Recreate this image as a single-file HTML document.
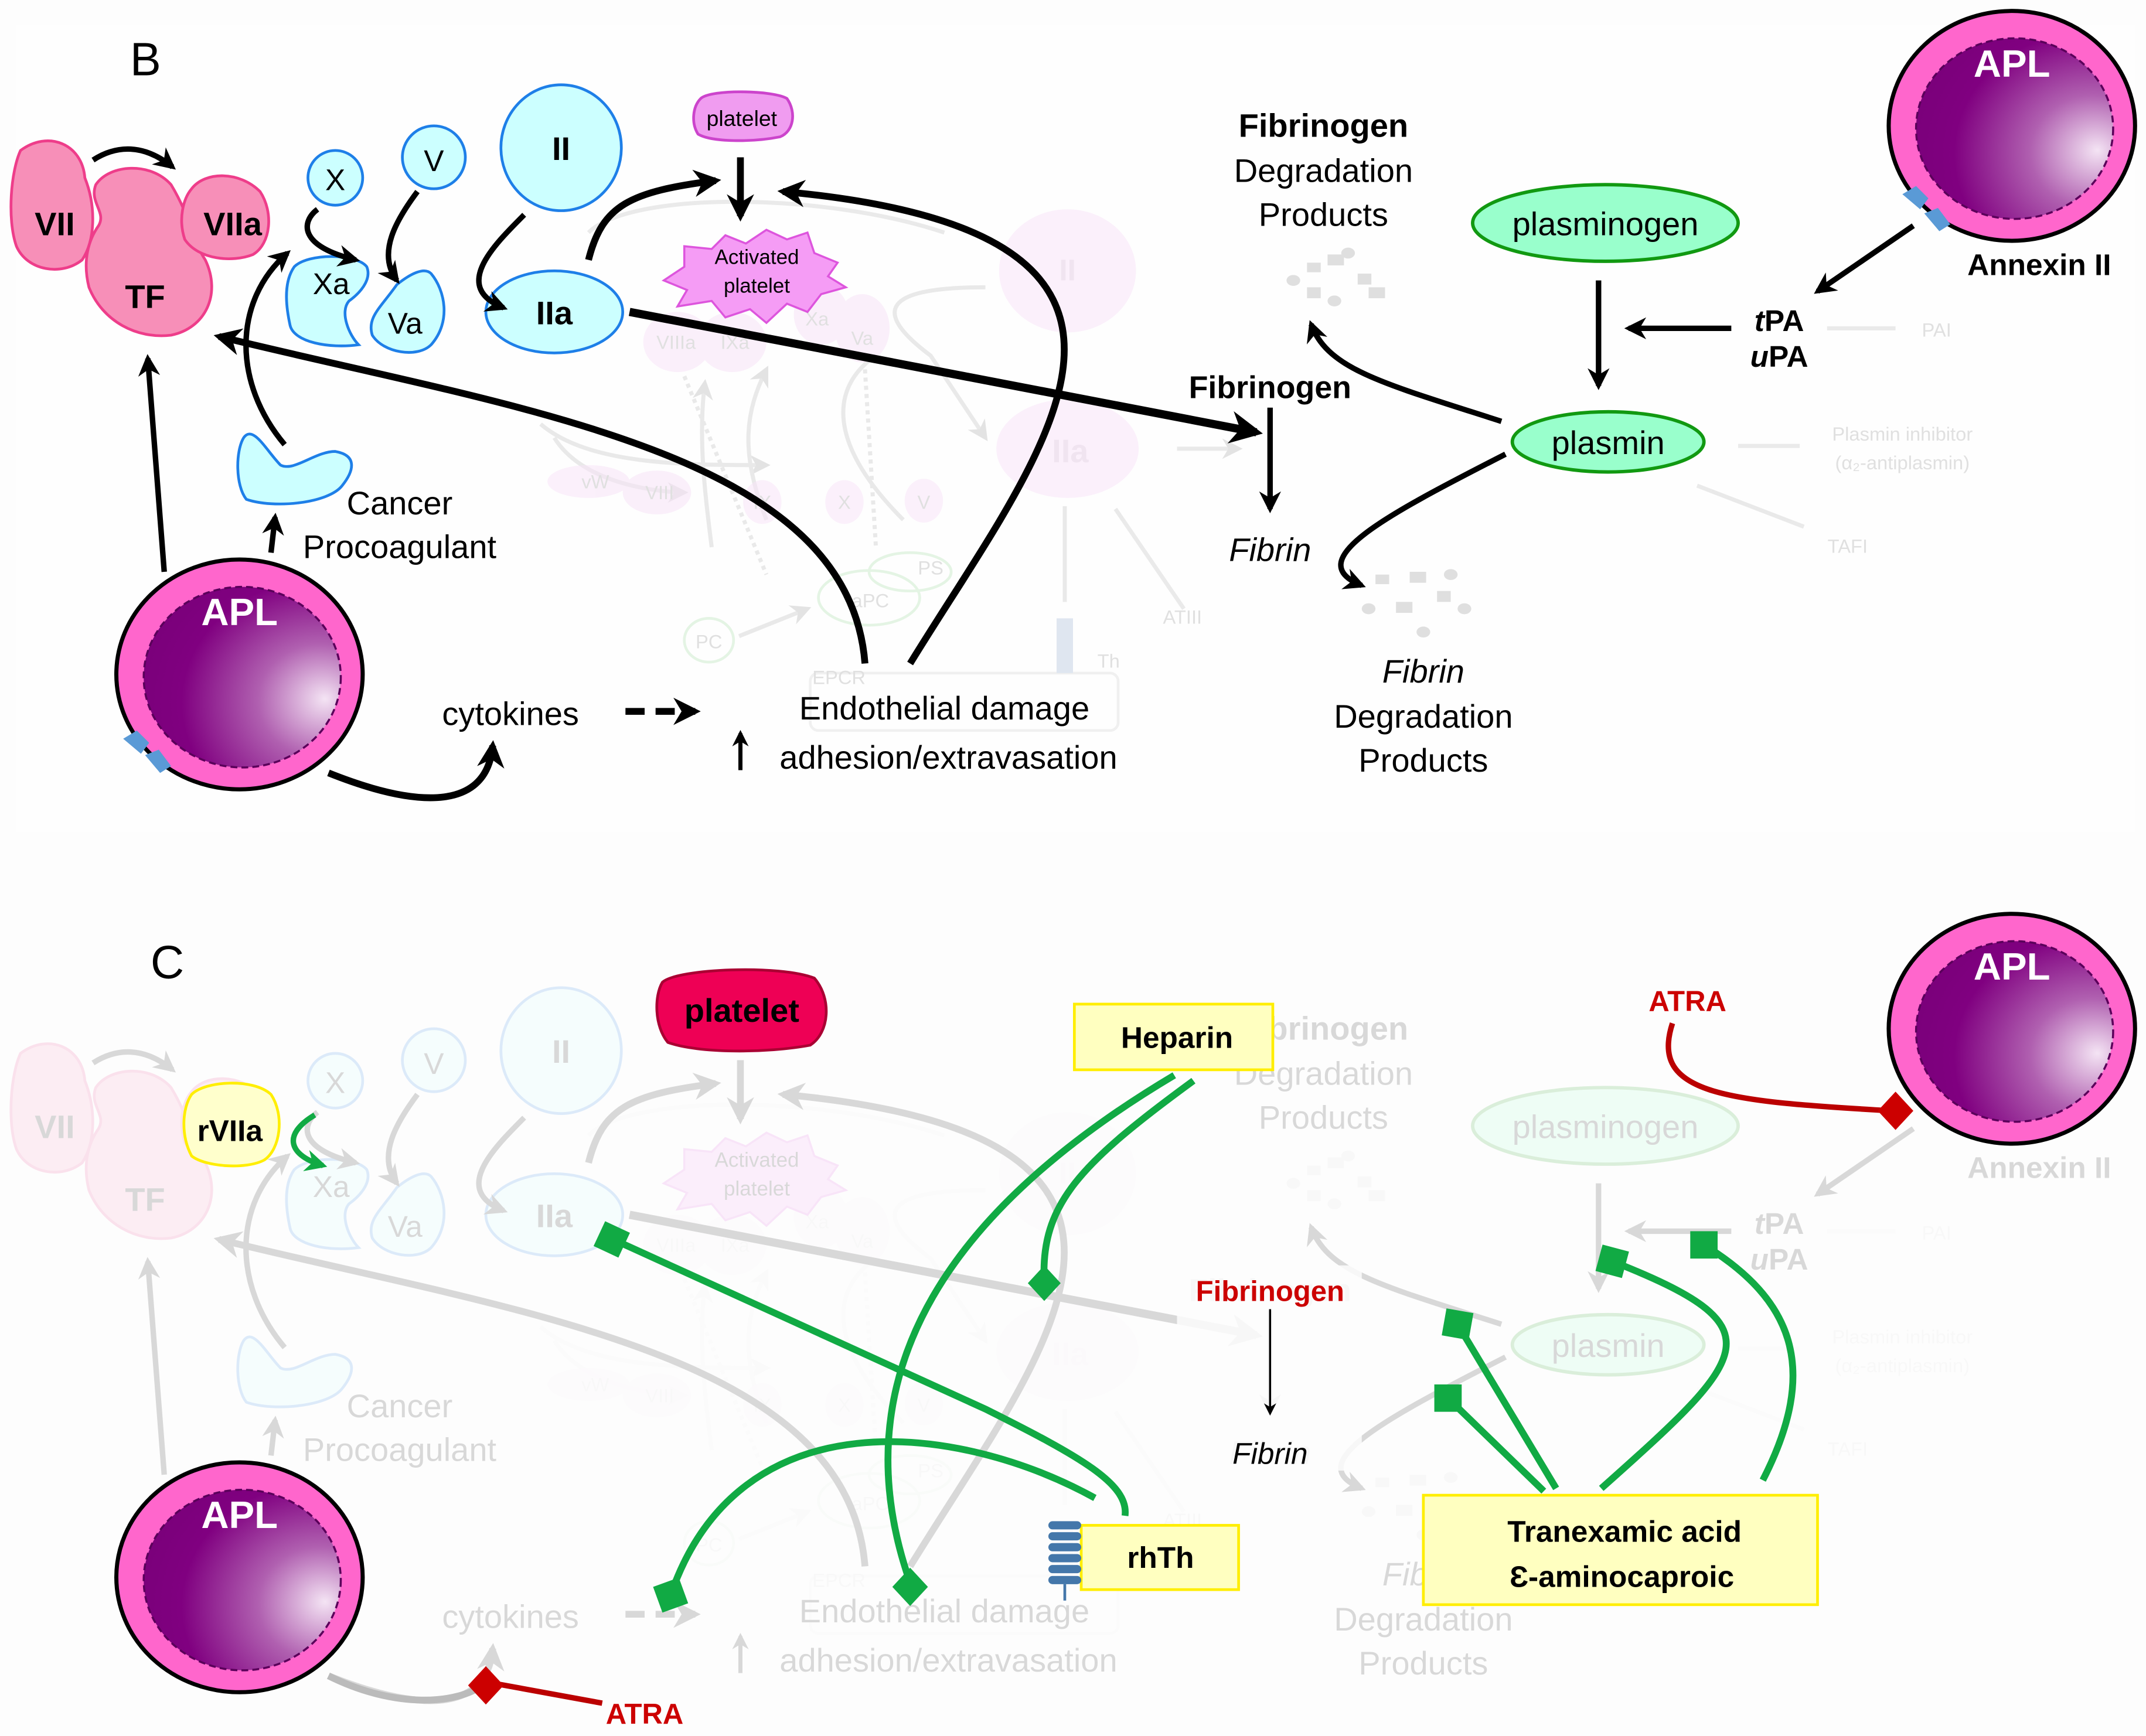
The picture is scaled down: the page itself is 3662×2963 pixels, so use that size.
<!DOCTYPE html>
<html><head><meta charset="utf-8"><style>
html,body{margin:0;padding:0;background:#fff}
svg{display:block}
text{font-family:"Liberation Sans",sans-serif}
</style></head><body>
<svg width="3662" height="2963" viewBox="0 0 1568 1269" preserveAspectRatio="none" xmlns="http://www.w3.org/2000/svg">
<defs>
<radialGradient id="cell" cx="0.85" cy="0.65" r="0.9" fx="0.92" fy="0.62">
<stop offset="0" stop-color="#f4e4f4"/><stop offset="0.35" stop-color="#b060b0"/><stop offset="0.75" stop-color="#800080"/><stop offset="1" stop-color="#7a007a"/>
</radialGradient>
<marker id="ah" viewBox="0 0 10 10" refX="8" refY="5" markerWidth="4" markerHeight="4" orient="auto"><path d="M0,0 L10,5 L0,10 L3,5z" fill="#000"/></marker>
<marker id="ahg" viewBox="0 0 10 10" refX="8" refY="5" markerWidth="5" markerHeight="5" orient="auto"><path d="M0,0 L10,5 L0,10 L3,5z" fill="#bbb"/></marker>
<marker id="ahgr" viewBox="0 0 10 10" refX="8" refY="5" markerWidth="4" markerHeight="4" orient="auto"><path d="M0,0 L10,5 L0,10 L3,5z" fill="#11aa44"/></marker>
<marker id="ahs" viewBox="0 0 10 10" refX="8" refY="5" markerWidth="6" markerHeight="6" orient="auto"><path d="M0,0 L10,5 L0,10 L3,5z" fill="#000"/></marker>
<g id="apl">
<ellipse cx="0" cy="0" rx="90" ry="84" fill="#ff66cc" stroke="#000" stroke-width="3"/>
<ellipse cx="2" cy="2" rx="72" ry="66" fill="url(#cell)" stroke="#5a005a" stroke-width="1.5" stroke-dasharray="5,3"/>
<text x="0" y="-36" font-size="28" font-weight="bold" fill="#fff" text-anchor="middle">APL</text>
</g>
<g id="panelB">
<g opacity="0.4" fill="none" stroke="#ccc" stroke-width="3">
<path d="M430,170 C460,140 600,140 690,170"/>
<path d="M720,210 C640,210 640,230 680,260 L720,320" marker-end="url(#ahg)"/>
<path d="M395,310 C430,340 500,340 560,340" marker-end="url(#ahg)"/>
<path d="M405,320 C430,360 500,360 500,360" marker-end="url(#ahg)"/>
<path d="M520,400 C515,360 510,320 515,280" marker-end="url(#ahg)"/>
<path d="M560,380 C540,330 545,300 560,270" marker-end="url(#ahg)"/>
<path d="M660,380 C600,320 610,280 640,260"/>
<path d="M860,328 L905,328" marker-end="url(#ahg)"/>
<path d="M778,440 L778,370"/>
<path d="M865,445 L815,372"/>
<path d="M540,465 L590,445" marker-end="url(#ahg)"/>
<path d="M1385,240 L1335,240"/><path d="M1315,326 L1270,326"/><path d="M1318,385 L1240,355"/>
<path d="M500,275 L560,420" stroke-dasharray="3,3"/><path d="M632,270 L640,400" stroke-dasharray="3,3"/>
</g>
<g fill="#f7e4f7" opacity="0.55">
<ellipse cx="780" cy="198" rx="50" ry="45"/><ellipse cx="780" cy="328" rx="52" ry="36"/>
<ellipse cx="495" cy="250" rx="25" ry="22"/><ellipse cx="535" cy="250" rx="25" ry="22"/><ellipse cx="600" cy="230" rx="20" ry="22"/><ellipse cx="630" cy="240" rx="20" ry="25"/>
<ellipse cx="430" cy="352" rx="30" ry="12"/><ellipse cx="480" cy="360" rx="25" ry="16"/><ellipse cx="557" cy="367" rx="14" ry="16"/><ellipse cx="617" cy="367" rx="14" ry="16"/><ellipse cx="675" cy="366" rx="14" ry="16"/>
</g>
<g fill="none" stroke="#e4f4e4" stroke-width="2"><ellipse cx="518" cy="468" rx="18" ry="16"/><ellipse cx="635" cy="437" rx="37" ry="20"/><ellipse cx="665" cy="418" rx="30" ry="14"/></g>
<rect x="592" y="492" width="225" height="42" rx="6" fill="none" stroke="#f0f0f0" stroke-width="2"/>
<g font-size="14" fill="#e0e0e0" text-anchor="middle">
<text x="780" y="205" font-size="22" font-weight="bold" fill="#f0e4f0">II</text><text x="782" y="338" font-size="24" font-weight="bold" fill="#f0e4f0">IIa</text>
<text x="494" y="255">VIIIa</text><text x="537" y="255">IXa</text><text x="597" y="238">Xa</text><text x="630" y="252">Va</text>
<text x="435" y="357">vW</text><text x="482" y="365">VIII</text><text x="557" y="372">IX</text><text x="617" y="372">X</text><text x="675" y="372">V</text>
<text x="518" y="474">PC</text><text x="636" y="444">aPC</text><text x="680" y="420">PS</text><text x="613" y="500">EPCR</text>
<text x="864" y="456">ATIII</text><text x="810" y="488">Th</text>
<text x="1415" y="246">PAI</text><text x="1390" y="322">Plasmin inhibitor</text><text x="1390" y="343">(α₂-antiplasmin)</text><text x="1350" y="404">TAFI</text>
</g>
<rect x="772" y="452" width="12" height="40" fill="#dfe6f0"/>
<g fill="#ccc" opacity="0.6">
<rect x="955" y="192" width="10" height="7"/><rect x="970" y="186" width="12" height="8"/><rect x="992" y="200" width="10" height="8"/><rect x="1000" y="210" width="12" height="8"/><rect x="955" y="210" width="10" height="8"/><ellipse cx="985" cy="185" rx="5" ry="4"/><ellipse cx="945" cy="205" rx="5" ry="4"/><ellipse cx="975" cy="220" rx="5" ry="4"/>
<rect x="1005" y="420" width="10" height="7"/><rect x="1030" y="418" width="12" height="8"/><rect x="1050" y="432" width="10" height="8"/><rect x="1020" y="440" width="12" height="8"/><ellipse cx="1060" cy="420" rx="5" ry="4"/><ellipse cx="1000" cy="445" rx="5" ry="4"/><ellipse cx="1040" cy="462" rx="5" ry="4"/><ellipse cx="1070" cy="445" rx="5" ry="4"/>
</g>
<path d="M15,110 C35,95 60,105 62,130 C70,150 70,175 60,190 C45,202 20,198 12,180 C5,160 8,125 15,110z" fill="#f78fb8" stroke="#ee3d8a" stroke-width="2"/>
<path d="M70,135 C80,120 110,118 125,135 C140,160 140,175 150,190 C162,215 150,240 125,245 C100,248 75,235 65,210 C60,190 65,175 72,165 C78,155 65,148 70,135z" fill="#f78fb8" stroke="#ee3d8a" stroke-width="2"/>
<path d="M140,138 C150,125 175,125 190,140 C200,155 198,178 185,186 C170,192 145,190 135,175 C130,160 134,145 140,138z" fill="#f78fb8" stroke="#ee3d8a" stroke-width="2"/>
<text x="40" y="172" font-size="24" font-weight="bold" text-anchor="middle">VII</text>
<text x="170" y="172" font-size="24" font-weight="bold" text-anchor="middle">VIIa</text>
<text x="106" y="225" font-size="24" font-weight="bold" text-anchor="middle">TF</text>
<path d="M68,117 C85,106 105,105 126,122" fill="none" stroke="#000" stroke-width="4" marker-end="url(#ah)"/>
<g fill="#ccffff" stroke="#1e7fe8" stroke-width="2">
<circle cx="245" cy="130" r="20"/><circle cx="317" cy="115" r="23"/><ellipse cx="410" cy="108" rx="44" ry="46"/>
<path d="M215,195 C225,185 260,185 268,195 C272,205 262,215 255,220 C248,228 255,245 262,252 C240,255 215,250 212,238 C208,220 208,205 215,195z"/>
<path d="M290,208 C300,200 310,195 315,200 C325,212 330,235 315,252 C305,262 280,258 272,245 C268,232 278,225 290,208z"/>
<ellipse cx="405" cy="228" rx="50" ry="30"/>
<path d="M178,320 C185,310 195,330 205,340 C215,345 230,330 245,330 C262,333 258,345 250,355 C240,368 200,372 180,365 C172,355 172,330 178,320z"/>
</g>
<text x="245" y="139" font-size="22" text-anchor="middle">X</text>
<text x="317" y="125" font-size="22" text-anchor="middle">V</text>
<text x="410" y="117" font-size="24" font-weight="bold" text-anchor="middle">II</text>
<text x="242" y="215" font-size="22" text-anchor="middle">Xa</text>
<text x="296" y="244" font-size="22" text-anchor="middle">Va</text>
<text x="405" y="237" font-size="24" font-weight="bold" text-anchor="middle">IIa</text>
<path d="M512,72 C520,65 565,66 575,72 C582,82 580,96 570,100 C550,104 520,104 510,98 C505,90 506,78 512,72z" fill="#f09cf0" stroke="#cc44cc" stroke-width="2"/>
<text x="542" y="92" font-size="16" text-anchor="middle">platelet</text>
<path d="M500,180 L520,182 L530,172 L545,178 L560,168 L575,175 L590,170 L595,185 L612,192 L605,202 L618,210 L600,215 L590,228 L575,222 L560,236 L548,226 L530,232 L520,220 L495,224 L502,212 L485,205 L500,195 z" fill="#f59cf5" stroke="#dd55dd" stroke-width="1.5"/>
<text x="553" y="193" font-size="15" text-anchor="middle">Activated</text>
<text x="553" y="214" font-size="15" text-anchor="middle">platelet</text>
<g fill="none" stroke="#000" stroke-width="4">
<path d="M232,153 C220,162 218,180 260,190" marker-end="url(#ah)"/>
<path d="M305,140 C290,160 275,185 290,205" marker-end="url(#ah)"/>
<path d="M383,157 C360,180 330,210 368,225" marker-end="url(#ah)"/>
<path d="M430,190 C440,150 460,140 523,132" stroke-width="5" marker-end="url(#ah)"/>
<path d="M541,115 L541,158" stroke-width="5" marker-end="url(#ah)"/>
<path d="M665,485 C760,330 900,170 572,140" stroke-width="5" marker-end="url(#ah)"/>
<path d="M632,485 C620,330 380,300 160,246" stroke-width="5" marker-end="url(#ah)"/>
<path d="M460,228 L918,316" stroke-width="6" marker-end="url(#ah)"/>
<path d="M208,325 C170,280 170,220 210,185" marker-end="url(#ah)"/>
<path d="M120,418 L108,262" marker-end="url(#ah)"/>
<path d="M198,404 L201,378" marker-end="url(#ah)"/>
<path d="M240,565 C290,585 355,600 360,545" stroke-width="5" marker-end="url(#ah)"/>
<path d="M457,520 L508,520" stroke-width="5" stroke-dasharray="14,8" marker-end="url(#ah)"/>
<path d="M541,563 L541,536" stroke-width="3" marker-end="url(#ah)"/>
<path d="M1168,205 L1168,282" marker-end="url(#ah)"/>
<path d="M1265,240 L1190,240" marker-end="url(#ah)"/>
<path d="M1398,165 L1328,213" marker-end="url(#ah)"/>
<path d="M928,298 L928,372" marker-end="url(#ah)"/>
<path d="M1097,308 C1010,280 970,270 958,237" marker-end="url(#ah)"/>
<path d="M1100,332 C1010,378 950,410 995,428" marker-end="url(#ah)"/>
</g>
<g font-size="24" text-anchor="middle">
<text x="292" y="376">Cancer</text><text x="292" y="408">Procoagulant</text>
<text x="373" y="530">cytokines</text>
<text x="690" y="526">Endothelial damage</text>
<text x="693" y="562">adhesion/extravasation</text>
<text x="967" y="100" font-weight="bold">Fibrinogen</text><text x="967" y="133">Degradation</text><text x="967" y="165">Products</text>
<text x="1040" y="499" font-style="italic">Fibrin</text><text x="1040" y="532">Degradation</text><text x="1040" y="564">Products</text>
<text x="928" y="410" font-style="italic">Fibrin</text>
</g>
<ellipse cx="1173" cy="163" rx="97" ry="28" fill="#99ffcc" stroke="#119911" stroke-width="2.5"/>
<text x="1173" y="172" font-size="24" text-anchor="middle">plasminogen</text>
<ellipse cx="1175" cy="323" rx="70" ry="22" fill="#99ffcc" stroke="#119911" stroke-width="2.5"/>
<text x="1175" y="332" font-size="24" text-anchor="middle">plasmin</text>
<g font-size="22" font-weight="bold" text-anchor="middle">
<text x="1300" y="242"><tspan font-style="italic">t</tspan>PA</text>
<text x="1300" y="268"><tspan font-style="italic">u</tspan>PA</text>
<text x="1490" y="201">Annexin II</text>
</g>
<text x="928" y="291" font-size="23" font-weight="bold" text-anchor="middle">Fibrinogen</text>
</g>
</defs>

<rect width="1568" height="1269" fill="#fdfdfd"/>
<rect x="12" y="18" width="1548" height="590" fill="#fefefe"/>
<text x="95" y="55" font-size="34">B</text>
<use href="#panelB"/>
<use href="#apl" transform="translate(175,493)"/>
<path d="M90,540 l10,-6 l9,9 l-6,8z M106,552 l10,-4 l9,12 l-8,5z" fill="#5a9ad6"/>
<use href="#apl" transform="translate(1470,92)"/>
<path d="M1390,142 l10,-6 l9,9 l-6,8z M1406,156 l10,-4 l9,12 l-8,5z" fill="#5a9ad6"/>

<!-- Panel C -->
<g opacity="0.14"><use href="#panelB" transform="translate(0,660)"/></g>
<rect x="860" y="925" width="135" height="150" fill="#fdfdfd" opacity="0.85"/>
<text x="110" y="715" font-size="34">C</text>
<use href="#apl" transform="translate(175,1153)"/>
<use href="#apl" transform="translate(1470,752)"/>
<path d="M484,718 C495,708 570,705 595,715 C608,730 606,755 592,764 C560,770 510,770 488,762 C478,750 478,728 484,718z" fill="#ee0055" stroke="#aa0033" stroke-width="2"/>
<text x="542" y="747" font-size="24" font-weight="bold" text-anchor="middle">platelet</text>
<path d="M140,800 C150,790 185,788 198,800 C208,815 205,840 193,848 C180,855 150,853 140,845 C132,830 133,810 140,800z" fill="#ffffcc" stroke="#ffee00" stroke-width="2"/>
<text x="168" y="834" font-size="22" font-weight="bold" text-anchor="middle">rVIIa</text>
<path d="M230,815 C205,830 212,845 236,852" fill="none" stroke="#11aa44" stroke-width="4" marker-end="url(#ahgr)"/>
<rect x="785" y="734" width="145" height="48" fill="#ffffc0" stroke="#ffee00" stroke-width="2"/>
<text x="860" y="766" font-size="22" font-weight="bold" text-anchor="middle">Heparin</text>
<rect x="790" y="1115" width="115" height="47" fill="#ffffc0" stroke="#ffee00" stroke-width="2"/>
<text x="848" y="1146" font-size="22" font-weight="bold" text-anchor="middle">rhTh</text>
<g fill="#4477aa"><rect x="766" y="1112" width="24" height="6" rx="3"/><rect x="766" y="1120" width="24" height="6" rx="3"/><rect x="766" y="1128" width="24" height="6" rx="3"/><rect x="766" y="1136" width="24" height="6" rx="3"/><rect x="766" y="1144" width="24" height="6" rx="3"/><rect x="766" y="1152" width="24" height="6" rx="3"/><rect x="777" y="1158" width="2" height="12"/></g>
<rect x="1040" y="1093" width="288" height="80" fill="#ffffc0" stroke="#ffee00" stroke-width="2"/>
<text x="1187" y="1127" font-size="22" font-weight="bold" text-anchor="middle">Tranexamic acid</text>
<text x="1185" y="1160" font-size="22" font-weight="bold" text-anchor="middle">Ɛ-aminocaproic</text>
<text x="928" y="951" font-size="21" font-weight="bold" fill="#cc0000" text-anchor="middle">Fibrinogen</text>
<path d="M928,957 L928,1033" stroke="#000" stroke-width="1.5" fill="none" marker-end="url(#ahs)"/>
<text x="928" y="1070" font-size="22" font-style="italic" text-anchor="middle">Fibrin</text>
<text x="1233" y="739" font-size="21" font-weight="bold" fill="#cc0000" text-anchor="middle">ATRA</text>
<text x="471" y="1260" font-size="21" font-weight="bold" fill="#cc0000" text-anchor="middle">ATRA</text>
<path d="M1222,748 C1205,800 1260,805 1382,812" fill="none" stroke="#bb0000" stroke-width="4"/>
<path d="M1385,798 L1398,812 L1385,826 L1372,812z" fill="#cc0000"/>
<path d="M240,1225 C290,1250 335,1245 352,1232" fill="none" stroke="#bbb" stroke-width="5"/>
<path d="M440,1245 L358,1230" fill="none" stroke="#bb0000" stroke-width="4"/>
<path d="M355,1218 L368,1232 L355,1246 L342,1232z" fill="#cc0000"/>
<g fill="none" stroke="#11aa44" stroke-width="5">
<path d="M448,906 L720,1030 C790,1065 825,1085 822,1108"/>
<path d="M800,1095 C700,1040 540,1020 490,1166"/>
<path d="M858,786 C700,880 610,1000 665,1157"/>
<path d="M872,790 C790,850 760,880 763,937"/>
<path d="M1137,1088 L1065,968"/>
<path d="M1128,1090 L1058,1022"/>
<path d="M1170,1088 C1280,990 1300,970 1178,922"/>
<path d="M1288,1082 C1330,1000 1310,950 1245,910"/>
</g>
<g fill="#11aa44">
<rect x="437" y="896" width="20" height="20" transform="rotate(25 447 906)"/>
<path d="M763,925 L775,938 L763,951 L751,938z"/>
<path d="M665,1146 L678,1160 L665,1174 L652,1160z"/>
<rect x="480" y="1156" width="20" height="20" transform="rotate(-20 490 1166)"/>
<rect x="1055" y="958" width="20" height="20" transform="rotate(10 1065 968)"/>
<rect x="1048" y="1012" width="20" height="20"/>
<rect x="1168" y="912" width="20" height="20" transform="rotate(15 1178 922)"/>
<rect x="1235" y="900" width="20" height="20"/>
</g>
</svg>
</body></html>
